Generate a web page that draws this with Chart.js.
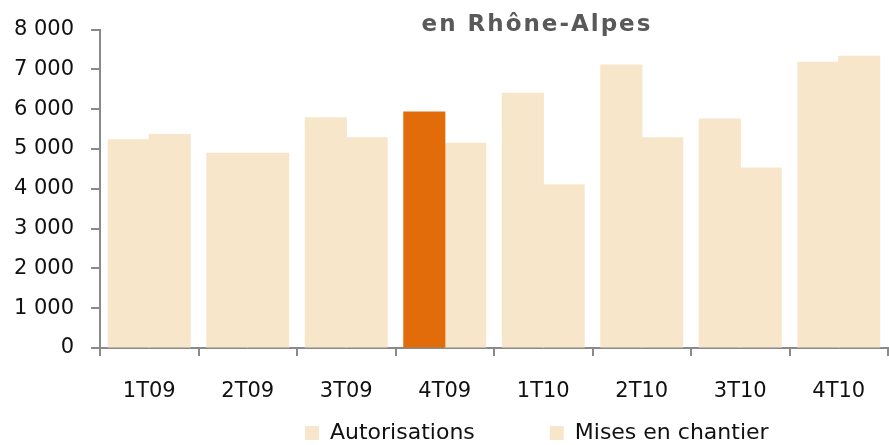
<!DOCTYPE html>
<html>
<head>
<meta charset="utf-8">
<script src="https://cdn.jsdelivr.net/npm/chart.js@4"></script>
<style>
  html, body { margin: 0; padding: 0; background: #fff; }
  #wrap { width: 889px; height: 445px; position: relative; }
</style>
</head>
<body>
<div id="wrap"><canvas id="chart"></canvas></div>
<script>
const categories = ['1T09', '2T09', '3T09', '4T09', '1T10', '2T10', '3T10', '4T10'];
const autorisations = [5230, 4890, 5780, 5930, 6400, 7110, 5750, 7180];
const misesEnChantier = [5360, 4890, 5280, 5140, 4100, 5280, 4520, 7330];
const highlightIndex = 3;
const titleText = 'en Rhône-Alpes';

const light = '#F8E6CB';
const orange = '#E36C0A';
const axisGray = '#8A8A8A';
const fontFamily = "'DejaVu Sans', sans-serif";
const legendGap = 75;

// titre décalé vers la droite + légende replacée (comme dans l'original)
const layoutPlugin = {
    id: 'tweaks',
    afterLayout(chart) {
        const lg = chart.legend;
        lg.left = 305 - legendGap;
        lg.top = 433 - 11 - legendGap;
    },
    afterDraw(chart) {
        const ctx = chart.ctx;
        ctx.save();
        ctx.font = 'bold 23px ' + fontFamily;
        ctx.letterSpacing = '2px';
        ctx.fillStyle = '#595959';
        ctx.textAlign = 'center';
        ctx.textBaseline = 'middle';
        ctx.fillText(titleText, 537, 25);
        ctx.restore();
    }
};

const frNumber = v => String(v).replace(/\B(?=(\d{3})+(?!\d))/g, ' ');

new Chart(document.getElementById('chart'), {
    type: 'bar',
    data: {
        labels: categories,
        datasets: [{
            label: 'Autorisations',
            data: autorisations,
            backgroundColor: c => c.dataIndex === highlightIndex ? orange : light,
            categoryPercentage: 0.83,
            barPercentage: 1,
            inflateAmount: 0.6
        }, {
            label: 'Mises en chantier',
            data: misesEnChantier,
            backgroundColor: light,
            categoryPercentage: 0.83,
            barPercentage: 1,
            inflateAmount: 0.6
        }]
    },
    options: {
        responsive: true,
        maintainAspectRatio: false,
        animation: false,
        layout: { padding: { top: 3.5, right: 1, left: 0, bottom: 0 } },
        plugins: {
            legend: {
                position: 'bottom',
                align: 'start',
                maxHeight: 42,
                labels: {
                    color: '#111',
                    font: { size: 22, family: fontFamily },
                    boxWidth: 14,
                    boxHeight: 14,
                    padding: legendGap
                }
            },
            tooltip: { enabled: false }
        },
        scales: {
            x: {
                afterFit: s => { s.height = 55; },
                border: { color: axisGray, width: 2 },
                grid: {
                    drawOnChartArea: false,
                    color: axisGray,
                    lineWidth: 2,
                    tickLength: 8
                },
                ticks: {
                    color: '#111',
                    font: { size: 21, family: fontFamily },
                    padding: 23
                }
            },
            y: {
                min: 0,
                max: 8000,
                afterFit: s => { s.width = 100; },
                border: { color: axisGray, width: 2 },
                grid: {
                    drawOnChartArea: false,
                    color: axisGray,
                    lineWidth: 2,
                    tickLength: 9
                },
                ticks: {
                    stepSize: 1000,
                    color: '#111',
                    font: { size: 21, family: fontFamily },
                    padding: 17,
                    callback: v => frNumber(v)
                }
            }
        }
    },
    plugins: [layoutPlugin]
});
</script>
</body>
</html>
